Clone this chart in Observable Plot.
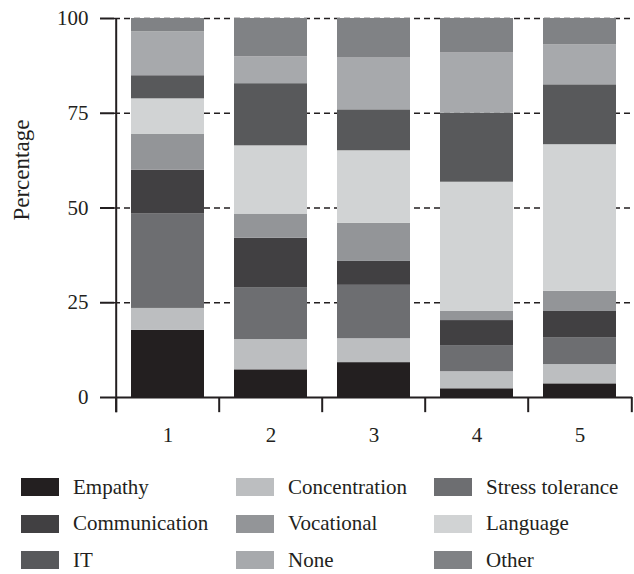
<!DOCTYPE html>
<html>
<head>
<meta charset="utf-8">
<script src="https://cdn.jsdelivr.net/npm/d3@7"></script>
<script src="https://cdn.jsdelivr.net/npm/@observablehq/plot@0.6"></script>
<style>
  body { margin: 0; background: #fff; }
  #chart { width: 634px; font-family: "Liberation Serif", serif; color: #231f20; }
  .legend { display: grid; grid-template-columns: 215px 198px auto; padding-left: 21px; margin-top: 14px; }
  .item { display: flex; align-items: center; height: 36.5px; font-size: 21px; white-space: nowrap; }
  .sw { width: 38px; height: 18px; margin-right: 14px; flex: none; }
</style>
</head>
<body>
<div id="chart"></div>
<script>
const groups = ["1", "2", "3", "4", "5"];
const categories = ["Empathy", "Concentration", "Stress tolerance", "Communication", "Vocational", "Language", "IT", "None", "Other"];
const colors = ["#231f20", "#bcbec0", "#6d6e71", "#414042", "#939598", "#d1d3d4", "#58595b", "#a7a9ac", "#808285"];
// values per group, in category order (bottom to top)
const values1 = [17.7, 5.8, 24.9, 11.6, 9.5, 9.3, 6.1, 11.6, 3.5];
const values2 = [7.3, 8.0, 13.7, 13.0, 6.4, 18.0, 16.4, 7.1, 10.1];
const values3 = [9.2, 6.3, 14.1, 6.3, 10.1, 19.1, 10.8, 13.8, 10.3];
const values4 = [2.3, 4.5, 6.9, 6.6, 2.4, 34.1, 18.2, 15.9, 9.1];
const values5 = [3.6, 5.1, 7.1, 6.9, 5.3, 38.7, 15.8, 10.6, 6.9];
const yTicks = [0, 25, 50, 75, 100];
const gridTicks = [25, 50, 75, 100];
const yLabel = "Percentage";

const series = [values1, values2, values3, values4, values5];
const data = [];
groups.forEach((g, i) => categories.forEach((c, j) => data.push({group: g, category: c, value: series[i][j]})));

const W = 634, mL = 114, mR = 2;
const step = (W - mL - mR) / groups.length;
const ink = "#231f20";

const plot = Plot.plot({
  width: W,
  height: 455,
  marginTop: 18,
  marginBottom: 58,
  marginLeft: mL,
  marginRight: mR,
  style: {fontFamily: "Liberation Serif, serif", fontSize: "21px", color: ink, background: "#fff"},
  x: {domain: groups, paddingInner: 0.295, paddingOuter: 0.1475, label: null},
  y: {domain: [0, 100], label: null},
  color: {domain: categories, range: colors},
  marks: [
    Plot.ruleY(gridTicks, {stroke: ink, strokeWidth: 1.5, strokeDasharray: "6,4"}),
    Plot.barY(data, {x: "group", y: "value", fill: "category"}),
    Plot.ruleY([0], {stroke: ink, strokeWidth: 2}),
    Plot.ruleX([groups[0]], {dx: -step / 2, y1: -4, y2: 100, stroke: ink, strokeWidth: 2}),
    Plot.ruleX(groups, {dx: -step / 2, y1: 0, y2: -4, stroke: ink, strokeWidth: 2}),
    Plot.ruleX([groups[groups.length - 1]], {dx: step / 2, y1: 0, y2: -4, stroke: ink, strokeWidth: 2}),
    Plot.axisY({ticks: yTicks, tickSize: 14, tickPadding: 12, strokeWidth: 2, stroke: ink, fill: ink, fontSize: 21, label: null}),
    Plot.axisX({tickSize: 0, tickPadding: 30, fill: ink, fontSize: 21, label: null}),
    Plot.text([yLabel], {frameAnchor: "left", textAnchor: "middle", dx: -93, y: [60], rotate: -90, fontSize: 23, fill: ink})
  ]
});
document.getElementById("chart").appendChild(plot);

const legend = document.createElement("div");
legend.className = "legend";
categories.forEach((c, j) => {
  const item = document.createElement("div");
  item.className = "item";
  const sw = document.createElement("span");
  sw.className = "sw";
  sw.style.background = colors[j];
  item.appendChild(sw);
  item.appendChild(document.createTextNode(c));
  legend.appendChild(item);
});
document.getElementById("chart").appendChild(legend);
</script>
</body>
</html>
